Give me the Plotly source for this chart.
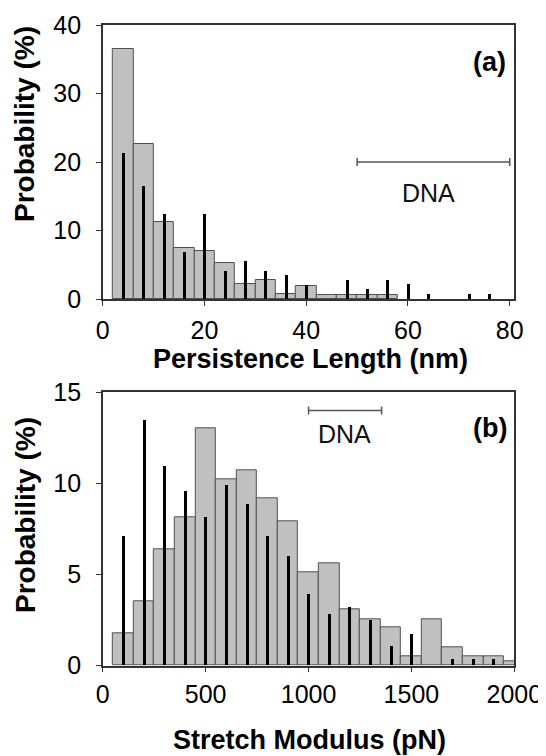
import plotly.graph_objects as go

# ---------------- data ----------------
# Panel (a): persistence length (nm)
a_bins = [4, 8, 12, 16, 20, 24, 28, 32, 36, 40, 44, 48, 52, 56]
a_gray = [36.5, 22.6, 11.2, 7.5, 7.0, 5.2, 2.2, 2.8, 0.8, 1.9, 0.6, 0.6, 0.6, 0.6]
a_line_x = [4, 8, 12, 16, 20, 24, 28, 32, 36, 40, 44, 48, 52, 56, 60, 64, 68, 72, 76]
a_line_y = [21.3, 16.5, 12.4, 6.9, 12.4, 4.1, 5.5, 4.1, 3.5, 2.1, 0, 2.8, 1.5, 2.8, 2.2, 0.8, 0, 0.8, 0.8]
a_dna = [50, 80]
a_dna_y = 20

# Panel (b): stretch modulus (pN)
b_bins = [100, 200, 300, 400, 500, 600, 700, 800, 900, 1000,
          1100, 1200, 1300, 1400, 1500, 1600, 1700, 1800, 1900, 2000]
b_gray = [1.78, 3.56, 6.38, 8.13, 13.0, 10.2, 10.7, 9.2, 7.9, 5.1,
          5.64, 3.09, 2.54, 2.08, 0.53, 2.54, 1.0, 0.53, 0.53, 0.26]
b_line_x = [100, 200, 300, 400, 500, 600, 700, 800, 900, 1000,
            1100, 1200, 1300, 1400, 1500, 1600, 1700, 1800, 1900]
b_line_y = [7.1, 13.46, 10.96, 9.59, 8.16, 9.92, 8.86, 7.1, 6.01, 3.91,
            2.82, 3.18, 2.49, 1.04, 1.74, 0, 0.35, 0.35, 0.35]
b_dna = [1000, 1355]
b_dna_y = 14

a_xticks = [0, 20, 40, 60, 80]
a_yticks = [0, 10, 20, 30, 40]
b_xticks = [0, 500, 1000, 1500, 2000]
b_yticks = [0, 5, 10, 15]

# ---------------- figure ----------------
FONT = "Liberation Sans, Arial, sans-serif"
GRAY = "#c0c0c0"
EDGE = "#505050"
AX = "#333333"

fig = go.Figure()

fig.add_trace(go.Bar(x=a_bins, y=a_gray, width=4, marker=dict(color=GRAY, line=dict(color=EDGE, width=1)),
                     xaxis="x", yaxis="y", showlegend=False))
fig.add_trace(go.Bar(x=a_line_x, y=a_line_y, width=0.6, marker=dict(color="black", line=dict(width=0)),
                     xaxis="x", yaxis="y", showlegend=False))
fig.add_trace(go.Scatter(x=[sum(a_dna) / 2], y=[a_dna_y], mode="markers",
                         marker=dict(color="rgba(0,0,0,0)", size=1),
                         error_x=dict(type="data", array=[(a_dna[1] - a_dna[0]) / 2], color="#555555",
                                      thickness=1.5, width=4),
                         xaxis="x", yaxis="y", showlegend=False))

fig.add_trace(go.Bar(x=b_bins, y=b_gray, width=100, marker=dict(color=GRAY, line=dict(color=EDGE, width=1)),
                     xaxis="x2", yaxis="y2", showlegend=False))
fig.add_trace(go.Bar(x=b_line_x, y=b_line_y, width=14.5, marker=dict(color="black", line=dict(width=0)),
                     xaxis="x2", yaxis="y2", showlegend=False))
fig.add_trace(go.Scatter(x=[sum(b_dna) / 2], y=[b_dna_y], mode="markers",
                         marker=dict(color="rgba(0,0,0,0)", size=1),
                         error_x=dict(type="data", array=[(b_dna[1] - b_dna[0]) / 2], color="#555555",
                                      thickness=1.5, width=4),
                         xaxis="x2", yaxis="y2", showlegend=False))

# page has an 8px body margin: figure is placed at (8, 8)
OFF = 8
W, H = 546 - OFF, 756 - OFF


def px(xp):
    return (xp - OFF) / W


def py(yp):
    return 1 - (yp - OFF) / H


xdom = [px(102.8), px(514.3)]
ydom_a = [py(299), py(25)]
ydom_b = [py(665.7), py(392.3)]

axis_common = dict(showline=True, mirror=True, linecolor=AX, linewidth=1.5,
                   ticks="outside", ticklen=5, tickcolor=AX, tickwidth=1,
                   showgrid=False, zeroline=False,
                   tickfont=dict(family=FONT, size=25, color="black"))

fig.update_layout(
    width=W, height=H,
    margin=dict(l=0, r=0, t=0, b=0),
    paper_bgcolor="white", plot_bgcolor="white",
    barmode="overlay", bargap=0,
    xaxis=dict(domain=xdom, anchor="y", range=[0, 80.9], tickvals=a_xticks, automargin=False,
               ticklabelstandoff=3, **axis_common),
    yaxis=dict(domain=ydom_a, anchor="x", range=[0, 40], tickvals=a_yticks, automargin=False,
               ticklabelstandoff=10, **axis_common),
    xaxis2=dict(domain=xdom, anchor="y2", range=[0, 2000], tickvals=b_xticks, automargin=False,
                ticklabelstandoff=1, **axis_common),
    yaxis2=dict(domain=ydom_b, anchor="x2", range=[0, 15], tickvals=b_yticks, automargin=False,
                ticklabelstandoff=10, **axis_common),
)

title_font = dict(family=FONT, size=27, color="black")
ytitle_font = dict(family=FONT, size=28, color="black")
ann = [
    dict(text="<b>Persistence Length (nm)</b>", x=px(310), y=py(359), font=title_font),
    dict(text="<b>Stretch Modulus (pN)</b>", x=px(309), y=py(740), font=title_font),
    dict(text="<b>Probability (%)</b>", x=px(25), y=py(124), textangle=-90, font=ytitle_font),
    dict(text="<b>Probability (%)</b>", x=px(25), y=py(515), textangle=-90, font=ytitle_font),
    dict(text="<b>(a)</b>", x=px(489), y=py(62), font=title_font),
    dict(text="<b>(b)</b>", x=px(490), y=py(428), font=title_font),
]
for a in ann:
    fig.add_annotation(xref="paper", yref="paper", showarrow=False,
                       xanchor="center", yanchor="middle", **a)

fig.add_annotation(xref="x", yref="y", x=64, y=15.5, text="DNA", showarrow=False,
                   font=dict(family=FONT, size=25, color="#111111"))
fig.add_annotation(xref="x2", yref="y2", x=1176, y=12.7, text="DNA", showarrow=False,
                   font=dict(family=FONT, size=25, color="#111111"))

fig.write_html("out.html")
